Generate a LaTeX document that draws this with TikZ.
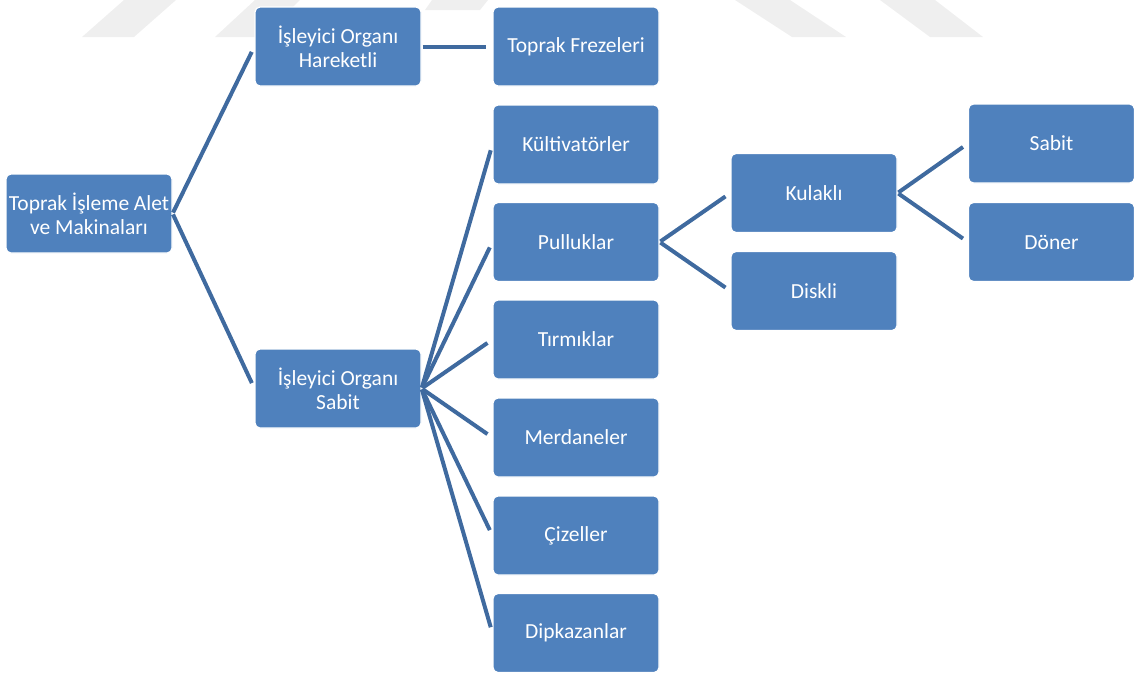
\documentclass[tikz,border=0pt]{standalone}
\usepackage{fontspec}
\setmainfont{Carlito}
\definecolor{boxblue}{HTML}{4F81BD}
\definecolor{linkblue}{HTML}{3F6A9F}
\definecolor{markgray}{HTML}{EFEFEF}
\tikzset{
  box/.style={draw=white, line width=1.2pt, fill=boxblue, rounded corners=5pt,
    minimum width=164pt, minimum height=79pt, inner sep=0pt,
    text width=166pt, align=center, text=white,
    font=\fontsize{21.5}{24}\selectfont,
    execute at begin node={\spaceskip=0.22em\relax}},
  link/.style={draw=linkblue, line width=4pt, shorten >=6pt, shorten <=1pt}
}
\begin{document}
\begin{tikzpicture}[x=1pt,y=-1pt]
\useasboundingbox (0,0) rectangle (1134,672);
% faint background emblem bands
\fill[markgray] (82,37) -- (134,37) -- (176,0) -- (124,0) -- cycle;
\fill[markgray] (215,37) -- (262,37) -- (300,0) -- (255,0) -- cycle;
\fill[markgray] (425,10) -- (480,10) -- (488,0) -- (432,0) -- cycle;
\fill[markgray] (735,0) -- (790,0) -- (846,37) -- (792,37) -- cycle;
\fill[markgray] (880,0) -- (935,0) -- (983,37) -- (930,37) -- cycle;

% boxes
\node[box] (root) at (89,213.5) {Toprak İşleme Alet\\ve Makinaları};
\node[box] (hareketli) at (338,46.5) {İşleyici Organı\\Hareketli};
\node[box] (sabitorg) at (338,388.5) {İşleyici Organı\\Sabit};

\node[box] (freze) at (576,46.5) {Toprak Frezeleri};
\node[box] (kultivator) at (576,144.5) {Kültivatörler};
\node[box] (pulluk) at (576,242) {Pulluklar};
\node[box] (tirmik) at (576,339.5) {Tırmıklar};
\node[box] (merdane) at (576,437.5) {Merdaneler};
\node[box] (cizel) at (576,535.5) {Çizeller};
\node[box] (dipkazan) at (576,633) {Dipkazanlar};

\node[box] (kulakli) at (814,193) {Kulaklı};
\node[box] (diskli) at (814,291) {Diskli};

\node[box] (sabit) at (1051.5,143.5) {Sabit};
\node[box] (doner) at (1051.5,242) {Döner};

% connectors
\foreach \c in {hareketli,sabitorg} \draw[link] (root.east) -- (\c.west);
\draw[link] (hareketli.east) -- (freze.west);
\foreach \c in {kultivator,pulluk,tirmik,merdane,cizel,dipkazan}
  \draw[link] (sabitorg.east) -- (\c.west);
\foreach \c in {kulakli,diskli} \draw[link] (pulluk.east) -- (\c.west);
\foreach \c in {sabit,doner} \draw[link] (kulakli.east) -- (\c.west);
\end{tikzpicture}
\end{document}
